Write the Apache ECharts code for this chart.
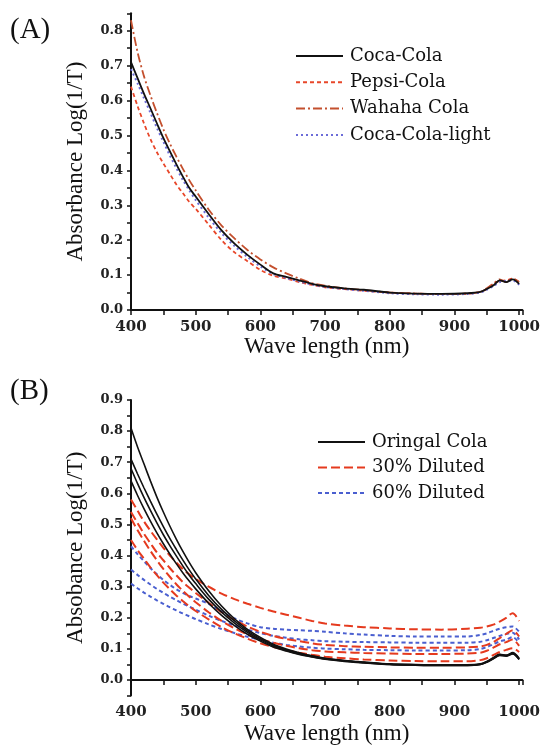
<!DOCTYPE html>
<html>
<head>
<meta charset="utf-8">
<script src="https://cdn.jsdelivr.net/npm/echarts@6/dist/echarts.min.js"></script>
<style>
  html, body { margin: 0; padding: 0; background: #fff; }
  #main { width: 543px; height: 753px; }
</style>
</head>
<body>
<div id="main"></div>
<script>
// wavelengths (nm) shared by every curve
const wl = [400, 410, 420, 430, 440, 450, 460, 470, 480, 490, 500, 520, 540, 560, 580, 600, 620, 640, 660, 680, 700, 730, 760, 800, 840, 880, 920, 940, 950, 960, 970, 980, 990, 1000];

// panel (A)
const cocaCola  = [.71, .665, .62, .578, .535, .493, .455, .418, .383, .35, .325, .275, .228, .19, .158, .13, .105, .095, .085, .075, .068, .062, .058, .05, .047, .046, .048, .052, .06, .07, .085, .08, .088, .075];
const pepsiCola = [.64, .585, .535, .49, .452, .42, .39, .36, .335, .31, .29, .245, .2, .165, .14, .115, .098, .09, .08, .072, .065, .06, .055, .05, .047, .046, .047, .052, .06, .075, .083, .085, .09, .08];
const wahaha    = [.83, .74, .67, .615, .565, .518, .477, .44, .405, .372, .343, .288, .242, .205, .172, .145, .122, .105, .09, .077, .07, .062, .057, .05, .047, .046, .047, .052, .062, .075, .088, .08, .09, .08];
const cocaLight = [.69, .65, .607, .565, .522, .482, .443, .407, .373, .343, .315, .265, .22, .183, .152, .125, .103, .092, .082, .073, .066, .06, .055, .048, .045, .044, .046, .05, .058, .068, .08, .083, .085, .072];

// panel (B)
const original = [
  [.81, .75, .695, .64, .588, .54, .495, .453, .414, .378, .345, .287, .238, .197, .163, .137, .115, .1, .088, .078, .07, .063, .058, .052, .05, .049, .049, .052, .06, .072, .083, .08, .088, .07],
  [.71, .663, .618, .575, .533, .493, .455, .42, .386, .354, .325, .272, .227, .19, .158, .133, .112, .097, .086, .077, .069, .062, .057, .051, .049, .048, .048, .051, .059, .07, .082, .079, .086, .068],
  [.68, .632, .587, .545, .505, .467, .432, .399, .367, .337, .31, .26, .218, .183, .153, .129, .109, .095, .084, .075, .068, .061, .056, .05, .048, .047, .047, .05, .058, .069, .08, .078, .085, .067],
  [.64, .594, .551, .511, .473, .438, .405, .374, .345, .318, .293, .247, .208, .175, .147, .125, .106, .093, .082, .074, .067, .06, .055, .05, .048, .047, .047, .05, .057, .068, .079, .077, .084, .066]
];
const diluted30 = [
  [.58, .545, .51, .48, .452, .425, .4, .378, .357, .34, .325, .3, .278, .26, .245, .232, .22, .21, .2, .19, .182, .175, .17, .166, .163, .162, .165, .168, .172, .178, .188, .2, .215, .19],
  [.54, .505, .47, .44, .41, .385, .36, .337, .315, .297, .28, .248, .218, .193, .172, .155, .142, .132, .125, .118, .113, .109, .107, .105, .104, .104, .105, .108, .113, .122, .135, .148, .16, .14],
  [.52, .482, .448, .415, .385, .357, .332, .308, .287, .268, .25, .218, .19, .166, .147, .132, .12, .11, .102, .096, .092, .089, .087, .085, .084, .084, .085, .088, .094, .104, .115, .122, .13, .11],
  [.45, .418, .39, .362, .337, .313, .292, .272, .254, .237, .222, .195, .17, .15, .133, .118, .106, .096, .088, .081, .075, .07, .066, .063, .061, .06, .06, .064, .07, .08, .09, .097, .102, .09]
];
const diluted60 = [
  [.43, .405, .382, .36, .34, .322, .306, .292, .28, .27, .262, .245, .22, .198, .182, .17, .165, .162, .16, .158, .155, .15, .146, .142, .14, .14, .14, .145, .15, .158, .165, .17, .172, .155],
  [.355, .338, .322, .307, .293, .28, .268, .257, .246, .236, .226, .207, .19, .175, .162, .151, .142, .136, .131, .128, .125, .123, .122, .121, .12, .12, .12, .123, .128, .135, .142, .148, .152, .13],
  [.31, .295, .281, .268, .256, .245, .234, .224, .214, .205, .196, .179, .164, .151, .139, .129, .12, .113, .108, .104, .101, .099, .097, .096, .095, .095, .096, .1, .106, .115, .124, .13, .138, .12]
];

const legendA = ['Coca-Cola', 'Pepsi-Cola', 'Wahaha Cola', 'Coca-Cola-light'];
const legendB = ['Oringal Cola', '30% Diluted', '60% Diluted'];

function pairs(vals) {
  return wl.map((w, i) => [w, vals[i]]);
}

function line(name, vals, axis, color, type, width) {
  return {
    name: name, type: 'line', xAxisIndex: axis, yAxisIndex: axis,
    data: pairs(vals), symbol: 'none', smooth: 0.3, silent: true,
    lineStyle: {color: color, type: type, width: width},
    itemStyle: {color: color}
  };
}

const tickFont = {fontFamily: 'DejaVu Serif', fontWeight: 'bold', color: '#222'};

function xAxis(grid, margin, gap) {
  return {
    type: 'value', gridIndex: grid, min: 400, max: 1005, interval: 50,
    name: 'Wave length (nm)', nameLocation: 'middle', nameGap: gap,
    nameTextStyle: {fontFamily: 'Liberation Serif', fontSize: 23, color: '#111'},
    axisLine: {lineStyle: {color: '#111', width: 2}},
    axisTick: {length: 5, lineStyle: {color: '#111', width: 1.5}},
    axisLabel: Object.assign({fontSize: 15, margin: margin,
      formatter: v => (v % 100 === 0 ? String(v) : '')}, tickFont),
    splitLine: {show: false}
  };
}

function yAxis(grid, min, max, name) {
  return {
    type: 'value', gridIndex: grid, min: min, max: max, interval: 0.05,
    name: name, nameLocation: 'middle', nameGap: 44,
    nameTextStyle: {fontFamily: 'Liberation Serif', fontSize: 23, color: '#111'},
    axisLine: {show: true, lineStyle: {color: '#111', width: 2}},
    axisTick: {show: true, length: 4, lineStyle: {color: '#111', width: 1.5}},
    axisLabel: Object.assign({fontSize: 13, margin: 8,
      formatter: v => {
        const t = Math.round(v * 100);
        return (t >= 0 && t % 10 === 0) ? (t / 100).toFixed(1) : '';
      }}, tickFont),
    splitLine: {show: false}
  };
}

function legend(names, left, top, gap) {
  return {
    data: names, orient: 'vertical', left: left, top: top,
    itemWidth: 47, itemHeight: 14, itemGap: gap, selectedMode: false,
    itemStyle: {opacity: 0},
    textStyle: {fontFamily: 'DejaVu Serif', fontSize: 18, color: '#111', padding: [0, 0, 0, 2]}
  };
}

const series = [
  line('Pepsi-Cola', pepsiCola, 0, '#e8472a', [4, 3], 1.8),
  line('Wahaha Cola', wahaha, 0, '#c4502e', [9, 3, 2, 3], 1.8),
  line('Coca-Cola-light', cocaLight, 0, '#6c6cd8', [2, 3], 2),
  line('Coca-Cola', cocaCola, 0, '#111111', 'solid', 1.8)
];
diluted60.forEach(v => series.push(line('60% Diluted', v, 1, '#4a5fd0', [4, 3], 2)));
diluted30.forEach(v => series.push(line('30% Diluted', v, 1, '#e53a1e', [9, 4], 2)));
original.forEach(v => series.push(line('Oringal Cola', v, 1, '#111111', 'solid', 1.6)));

const chart = echarts.init(document.getElementById('main'), null, {renderer: 'canvas'});
chart.setOption({
  backgroundColor: '#fff',
  animation: false,
  grid: [
    {left: 131, right: 12, top: 13.3, bottom: 443},
    {left: 131, right: 12, top: 400, bottom: 57.4}
  ],
  xAxis: [xAxis(0, 10, 24), xAxis(1, 9, 27)],
  yAxis: [yAxis(0, 0, 0.85, 'Absorbance Log(1/T)'), yAxis(1, -0.05, 0.9, 'Absobance Log(1/T)')],
  legend: [legend(legendA, 290, 42, 8.3), legend(legendB, 312, 428, 7.5)],
  graphic: [
    {type: 'text', left: 10, top: 16, style: {text: '(A)', font: '29px "Liberation Serif"', fill: '#111'}},
    {type: 'text', left: 10, top: 377, style: {text: '(B)', font: '29px "Liberation Serif"', fill: '#111'}}
  ],
  series: series
});
</script>
</body>
</html>
